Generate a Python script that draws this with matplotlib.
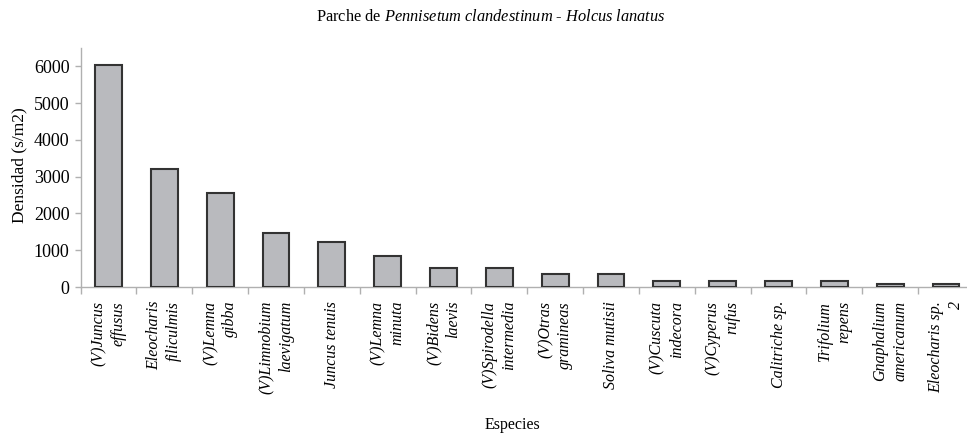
# -*- coding: utf-8 -*-
"""Densidad por especie — parche de Pennisetum clandestinum - Holcus lanatus."""

import numpy as np
import matplotlib
matplotlib.use("Agg")
import matplotlib.pyplot as plt

# ---- datos ----
ESPECIES = [
    "(V)Juncus\neffusus",
    "Eleocharis\nfiliculmis",
    "(V)Lemna\ngibba",
    "(V)Limnobium\nlaevigatum",
    "Juncus tenuis",
    "(V)Lemna\nminuta",
    "(V)Bidens\nlaevis",
    "(V)Spirodella\nintermedia",
    "(V)Otras\ngramineas",
    "Soliva mutisii",
    "(V)Cuscuta\nindecora",
    "(V)Cyperus\nrufus",
    "Calitriche sp.",
    "Trifolium\nrepens",
    "Gnaphalium\namericanum",
    "Eleocharis sp.\n2",
]
DENSIDAD = [6040, 3220, 2557, 1480, 1225, 835, 520, 520,
            350, 350, 175, 175, 175, 175, 88, 88]
Y_TICKS = [0, 1000, 2000, 3000, 4000, 5000, 6000]

plt.rcParams["font.family"] = ["Liberation Serif", "DejaVu Serif"]
plt.rcParams["mathtext.fontset"] = "custom"
plt.rcParams["mathtext.rm"] = "Liberation Serif"
plt.rcParams["mathtext.it"] = "Liberation Serif:italic"

W, H = 967, 437
fig = plt.figure(figsize=(W / 100, H / 100), dpi=100)
# eje: x 80.6..974 px, y 48..287 px
ax = fig.add_axes([80.6 / W, 1 - 287 / H, (974 - 80.6) / W, (287 - 48) / H])

x = np.arange(len(ESPECIES))
ax.bar(x, DENSIDAD, width=0.48, color="#b9babe", edgecolor="#333333",
       linewidth=1.5, zorder=3)

ax.set_xlim(-0.5, len(ESPECIES) - 0.5)
ax.set_ylim(0, 6500)
ax.set_yticks(Y_TICKS)
ax.set_yticklabels([str(v) for v in Y_TICKS], fontsize=13)

# etiquetas en el centro, marcas en los limites de categoria
ax.set_xticks(x)
ax.set_xticklabels(ESPECIES, rotation=90, fontsize=11.5, style="italic",
                   va="top", ha="center", multialignment="right",
                   linespacing=1.3)
ax.tick_params(axis="x", which="major", length=0, pad=10)
ax.set_xticks(np.arange(len(ESPECIES) + 1) - 0.5, minor=True)
ax.tick_params(axis="x", which="minor", length=5, color="#b0b0b0", width=1)
ax.tick_params(axis="y", length=4, color="#b0b0b0", width=1, pad=4)

for side in ("top", "right"):
    ax.spines[side].set_visible(False)
for side in ("left", "bottom"):
    ax.spines[side].set_color("#b0b0b0")
    ax.spines[side].set_linewidth(1)

fig.text(491 / W, 1 - 17 / H,
         r"Parche de $\mathit{Pennisetum\ clandestinum}$ - $\mathit{Holcus\ lanatus}$",
         ha="center", va="center", fontsize=11.8)
fig.text(19 / W, 1 - 165 / H, "Densidad (s/m2)", rotation=90,
         ha="center", va="center", fontsize=12.5)
fig.text(512 / W, 1 - 425 / H, "Especies", ha="center", va="center",
         fontsize=11.5)

fig.savefig("out.png", dpi=100)
